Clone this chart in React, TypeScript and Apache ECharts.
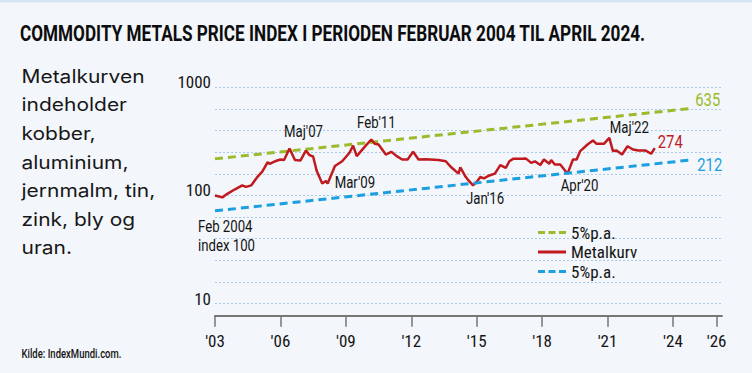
import React, { useEffect, useRef } from 'react';
import * as echarts from 'echarts';

// ---------- texts ----------
const titleText = 'COMMODITY METALS PRICE INDEX I PERIODEN FEBRUAR 2004 TIL APRIL 2024.';
const sideText = ['Metalkurven', 'indeholder', 'kobber,', 'aluminium,', 'jernmalm, tin,', 'zink, bly og', 'uran.'];
const sourceText = 'Kilde: IndexMundi.com.';
const startLabel = ['Feb 2004', 'index 100'];

// ---------- data (x = months since Feb 2004, y = index, Feb 2004 = 100) ----------
const months = [0, 4, 7, 11, 15, 17, 20, 23, 26, 29, 30, 33, 36, 38, 41, 44, 47, 50, 52, 54, 56, 59, 61, 62, 66, 70, 74, 76, 78, 82, 86, 88, 90, 94, 97, 100, 103, 106, 109, 112, 116, 123, 127, 130, 134, 135, 138, 139, 142, 144, 146, 148, 151, 154, 157, 160, 162, 164, 169, 171, 174, 176, 179, 181, 184, 185, 187, 190, 194, 197, 199, 201, 205, 208, 210, 214, 217, 219, 221, 224, 227, 230, 233, 237, 240, 242];
const metalIndex = [100, 96, 104, 114, 124, 120, 124, 146, 166, 203, 196, 207, 215, 213, 272, 213, 210, 260, 236, 229, 168, 129, 136, 129, 187, 207, 248, 289, 231, 277, 329, 300, 296, 239, 253, 231, 215, 215, 253, 215, 216, 213, 207, 182, 159, 182, 148, 141, 124, 133, 148, 144, 153, 159, 191, 180, 207, 218, 218, 220, 200, 207, 191, 215, 196, 213, 193, 193, 159, 215, 215, 257, 296, 322, 300, 300, 341, 257, 260, 239, 285, 266, 260, 260, 243, 274];
const trendMonths = [0, 261];
const trendHigh = [218, 635];
const trendLow = [72, 212];

const eventLabels = ["Maj'07", "Mar'09", "Feb'11", "Jan'16", "Apr'20", "Maj'22"];
const eventMonths = [41, 62, 86, 142, 194, 217];

const xTickMonths = [0, 36, 72, 108, 144, 180, 216, 252, 276];
const xTickLabels = ["'03", "'06", "'09", "'12", "'15", "'18", "'21", "'24", "'26"];
const yTickValues = [10, 100, 1000];

const seriesHigh = '5%p.a. (øvre)';
const seriesMetal = 'Metalkurv';
const seriesLow = '5%p.a. (nedre)';
const legendLabels: Record<string, string> = {
  [seriesHigh]: '5%p.a.',
  [seriesMetal]: 'Metalkurv',
  [seriesLow]: '5%p.a.',
};

// ---------- styles ----------
const GREEN = '#9bba2c';
const RED = '#c01a1f';
const BLUE = '#1c9fe0';
const INK = '#141414';
const GRID = '#a9c9eb';
const AXIS = '#767676';
const COND = "'Roboto Condensed', 'DejaVu Sans Condensed', 'Liberation Sans Narrow', Roboto, sans-serif";
const SQUEEZE = 0.8;
const DASH_ICON = 'path://M0,0h7v3h-7z M10.5,0h7v3h-7z M21,0h7v3h-7z';
const SOLID_ICON = 'path://M0,0h28v3h-28z';

// label offsets (px) relative to the data point: [dx, dy, align]
const eventOffsets: [number, number, string][] = [
  [14, -17, 'center'],
  [7, -1, 'left'],
  [5, -17, 'center'],
  [12, 13, 'center'],
  [12, 12, 'center'],
  [20, -10, 'center'],
];

const lg = (v: number) => Math.log10(v);

export default function App() {
  const ref = useRef<HTMLDivElement>(null);

  useEffect(() => {
    if (!ref.current) return;
    const chart = echarts.init(ref.current, undefined, { renderer: 'svg' });

    const metalData = months.map((m, i) => [m, lg(metalIndex[i])]);
    const highData = trendMonths.map((m, i) => [m, lg(trendHigh[i])]);
    const lowData = trendMonths.map((m, i) => [m, lg(trendLow[i])]);

    chart.setOption({
      animation: false,
      backgroundColor: 'transparent',
      grid: { left: 215, right: 30, top: 87.3, bottom: 47.8 },
      xAxis: {
        type: 'value',
        min: 0,
        max: 279,
        offset: -9.5,
        axisLine: { show: true, onZero: false, lineStyle: { color: AXIS, width: 2 } },
        axisTick: { show: true, length: 11, customValues: xTickMonths, lineStyle: { color: AXIS, width: 1.5 } },
        axisLabel: {
          customValues: xTickMonths,
          formatter: (v: number) => {
            const i = xTickMonths.indexOf(Math.round(v));
            return i >= 0 ? xTickLabels[i] : '';
          },
          margin: 17,
          fontSize: 17,
          color: INK,
          fontFamily: COND,
        },
        splitLine: { show: false },
      },
      yAxis: {
        type: 'value',
        min: 0.8,
        max: 3,
        interval: 0.2,
        axisLine: { show: false },
        axisTick: { show: false },
        axisLabel: {
          formatter: (v: number) => {
            const hit = yTickValues.find((t) => Math.abs(lg(t) - v) < 1e-6);
            return hit !== undefined ? String(hit) : '';
          },
          margin: 4,
          fontSize: 17,
          lineHeight: 10,
          color: INK,
          fontFamily: COND,
          verticalAlign: 'bottom',
        },
        splitLine: { show: true, showMinLine: false, lineStyle: { color: GRID, type: [2, 2], width: 1 } },
      },
      legend: {
        orient: 'vertical',
        left: 533,
        top: 219,
        itemWidth: 28,
        itemHeight: 3,
        itemGap: 2.5,
        data: [
          { name: seriesHigh, icon: DASH_ICON },
          { name: seriesMetal, icon: SOLID_ICON },
          { name: seriesLow, icon: DASH_ICON },
        ],
        formatter: (n: string) => legendLabels[n] ?? n,
        textStyle: { fontSize: 17, lineHeight: 17, color: INK, fontFamily: COND },
      },
      series: [
        {
          name: seriesHigh,
          type: 'line',
          data: highData,
          symbol: 'none',
          lineStyle: { color: GREEN, width: 3, type: [8, 5] },
          itemStyle: { color: GREEN },
        },
        {
          name: seriesMetal,
          type: 'line',
          data: metalData,
          symbol: 'none',
          lineStyle: { color: RED, width: 2.5 },
          itemStyle: { color: RED },
        },
        {
          name: seriesLow,
          type: 'line',
          data: lowData,
          symbol: 'none',
          lineStyle: { color: BLUE, width: 3, type: [8, 5] },
          itemStyle: { color: BLUE },
        },
      ],
    });

    const ctx = document.createElement('canvas').getContext('2d')!;
    const measure = (t: string, font: string) => {
      ctx.font = font;
      return ctx.measureText(t).width;
    };
    const px = (m: number, v: number) => chart.convertToPixel({ gridIndex: 0 }, [m, lg(v)]) as number[];

    const annFont = { fontSize: 16.5, fontFamily: 'Roboto', fill: INK };
    const elements: any[] = [];

    elements.push({ type: 'rect', shape: { x: 0, y: 0, width: 752, height: 2.5 }, style: { fill: '#d6e4f5' }, silent: true });

    const titleFont = 'bold 22px Roboto';
    const titleScale = 626 / measure(titleText, titleFont);
    elements.push({
      type: 'text', x: 20, y: 34, scaleX: titleScale,
      style: { text: titleText, fontSize: 22, fontWeight: 'bold', fontFamily: 'Roboto', fill: '#0d0d0d', align: 'left', verticalAlign: 'middle' },
    });

    const sideScale = 123 / measure(sideText[0], '18.3px Inter');
    elements.push({
      type: 'text', x: 21.5, y: 62, scaleX: sideScale,
      style: { text: sideText.join('\n'), fontSize: 18.3, fontFamily: 'Inter', fill: '#171717', lineHeight: 28.6, align: 'left', verticalAlign: 'top' },
    });

    const srcScale = 100 / measure(sourceText, '500 12.5px Roboto');
    elements.push({
      type: 'text', x: 21.5, y: 354, scaleX: srcScale,
      style: { text: sourceText, fontSize: 12.5, fontWeight: 500, fontFamily: 'Roboto', fill: INK, align: 'left', verticalAlign: 'middle' },
    });

    eventLabels.forEach((label, i) => {
      const idx = months.indexOf(eventMonths[i]);
      const [x, y] = px(months[idx], metalIndex[idx]);
      const [dx, dy, align] = eventOffsets[i];
      elements.push({
        type: 'text', x: x + dx, y: y + dy, scaleX: SQUEEZE,
        style: { text: label, ...annFont, align, verticalAlign: 'middle' },
      });
    });

    const [sx, sy] = px(months[0], metalIndex[0]);
    startLabel.forEach((t, i) => {
      elements.push({
        type: 'text', x: sx - 17, y: sy + 31.5 + i * 18.5, scaleX: SQUEEZE,
        style: { text: t, ...annFont, align: 'left', verticalAlign: 'middle' },
      });
    });

    const endFont = { fontSize: 18.5, fontFamily: 'Roboto' };
    const last = trendMonths.length - 1;
    const [gx, gy] = px(trendMonths[last], trendHigh[last]);
    elements.push({ type: 'text', x: gx + 6, y: gy - 9, scaleX: SQUEEZE, style: { text: String(trendHigh[last]), ...endFont, fill: GREEN, align: 'left', verticalAlign: 'middle' } });
    const [bx, by] = px(trendMonths[last], trendLow[last]);
    elements.push({ type: 'text', x: bx + 8, y: by + 4, scaleX: SQUEEZE, style: { text: String(trendLow[last]), ...endFont, fill: BLUE, align: 'left', verticalAlign: 'middle' } });
    const ml = months.length - 1;
    const [rx, ry] = px(months[ml], metalIndex[ml]);
    elements.push({ type: 'text', x: rx + 3, y: ry - 7, scaleX: SQUEEZE, style: { text: String(metalIndex[ml]), ...endFont, fill: RED, align: 'left', verticalAlign: 'middle' } });

    chart.setOption({ graphic: { elements } });

    return () => chart.dispose();
  }, []);

  return (
    <div
      ref={ref}
      style={{ position: 'fixed', left: 0, top: 0, width: 752, height: 373, background: '#f3f6fb' }}
    />
  );
}
